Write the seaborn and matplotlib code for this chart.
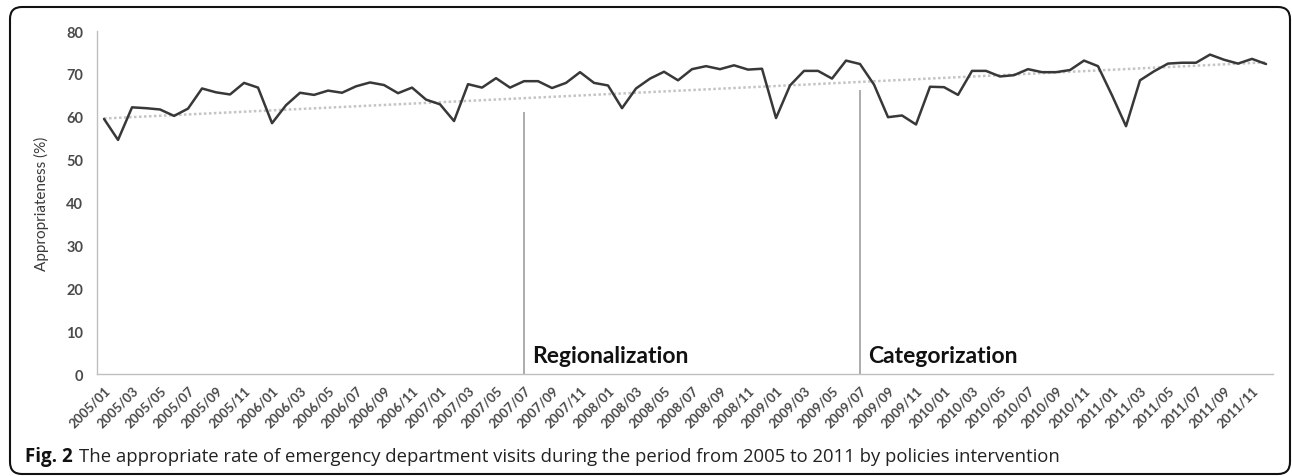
import numpy as np
import pandas as pd
import seaborn as sns
from matplotlib import pyplot as plt
from matplotlib.patches import FancyBboxPatch

# monthly appropriateness rate (%), 2005/01 .. 2011/12
months = [f"{y}/{m:02d}" for y in range(2005, 2012) for m in range(1, 13)]
rate = [59.5, 54.6, 62.2, 62.0, 61.7, 60.2, 61.9, 66.6, 65.7, 65.2, 67.9, 66.8,
        58.5, 62.7, 65.6, 65.1, 66.1, 65.6, 67.1, 68.0, 67.4, 65.5, 66.8, 64.0,
        62.9, 59.0, 67.6, 66.8, 69.0, 66.8, 68.3, 68.3, 66.7, 67.9, 70.4, 67.9,
        67.3, 62.0, 66.6, 68.9, 70.5, 68.5, 71.1, 71.8, 71.1, 72.0, 71.0, 71.2,
        59.7, 67.3, 70.7, 70.7, 68.9, 73.1, 72.3, 67.5, 59.9, 60.3, 58.2, 67.0,
        66.9, 65.1, 70.7, 70.7, 69.4, 69.7, 71.1, 70.4, 70.4, 70.9, 73.1, 71.8,
        65.0, 57.8, 68.5, 70.6, 72.4, 72.6, 72.6, 74.5, 73.3, 72.4, 73.5, 72.3]

# linear trend as drawn in the figure (first and last month)
trend_months = ["2005/01", "2011/12"]
trend_vals = [59.6, 72.7]

policies = ["Regionalization", "Categorization"]
policy_month = ["2007/07", "2009/07"]
policy_line_top = [61.2, 66.2]

df = pd.DataFrame({"month": months, "rate": rate})
df["idx"] = np.arange(len(df))
trend = pd.DataFrame({"idx": [months.index(m) for m in trend_months],
                      "rate": trend_vals})

sns.set_style("white")
plt.rcParams["font.family"] = ["Lato", "DejaVu Sans"]

fig = plt.figure(figsize=(12.92, 4.77), dpi=100)
ax = fig.add_axes([0.0751, 0.2138, 0.9102, 0.7191])

sns.lineplot(data=trend, x="idx", y="rate", ax=ax, color="#c4c4c4",
             lw=1.8, ls=(0, (1, 1)))
sns.lineplot(data=df, x="idx", y="rate", ax=ax, color="#383838", lw=1.8)

for name, m, top in zip(policies, policy_month, policy_line_top):
    xi = months.index(m)
    ax.vlines(xi, 0, top, color="#a6a6a6", lw=1.3)
    ax.text(xi + 0.55, 2.8, name, fontsize=16.5, fontweight="bold",
            color="#111111", va="baseline", ha="left")

ax.set_xlim(-0.5, len(months) - 0.5)
ax.set_ylim(0, 80)
ax.set_yticks(range(0, 81, 10))
ax.set_xticks(df["idx"][::2])
ax.set_xticklabels(df["month"][::2], rotation=45, ha="right",
                   rotation_mode="anchor", fontsize=9.5, fontweight="bold",
                   color="#4a4a4a")
ax.set_xticks(np.arange(-0.5, len(months)), minor=True)
ax.tick_params(axis="x", which="major", length=0, pad=7)
ax.tick_params(axis="x", which="minor", length=4, color="#bfbfbf", width=1)
ax.tick_params(axis="y", length=4, color="#bfbfbf", width=1,
               labelsize=10.5, labelcolor="#4a4a4a", pad=6)
for lab in ax.get_yticklabels():
    lab.set_fontweight("bold")
ax.set_xlabel("")
ax.set_ylabel("Appropriateness (%)", fontsize=11, color="#3a3a3a", labelpad=12)
for s in ["top", "right"]:
    ax.spines[s].set_visible(False)
for s in ["left", "bottom"]:
    ax.spines[s].set_color("#bfbfbf")
    ax.spines[s].set_linewidth(1)

border = FancyBboxPatch((0.10, 0.02), 12.80, 4.67,
                        boxstyle="round,pad=0,rounding_size=0.12",
                        transform=fig.dpi_scale_trans, fill=False,
                        ec="#111111", lw=1.5)
fig.add_artist(border)

cap_y = 1 - 462 / 477
fig.text(25 / 1292, cap_y, "Fig. 2", fontsize=13.5, fontweight="bold",
         family=["Open Sans", "DejaVu Sans"], va="baseline", color="#111111")
fig.text(79 / 1292, cap_y,
         "The appropriate rate of emergency department visits during the period from 2005 to 2011 by policies intervention",
         fontsize=13.3, family=["Open Sans", "DejaVu Sans"], va="baseline",
         color="#222222")

fig.savefig("out.png", dpi=100)
